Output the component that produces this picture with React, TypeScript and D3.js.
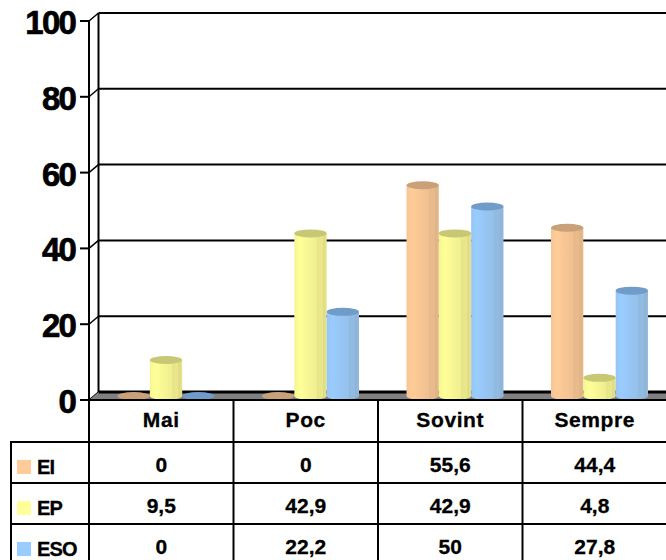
import React from "react";
import * as d3 from "d3";

const categories = ["Mai", "Poc", "Sovint", "Sempre"];
const seriesNames = ["EI", "EP", "ESO"];
const valuesEI = [0, 0, 55.6, 44.4];
const valuesEP = [9.5, 42.9, 42.9, 4.8];
const valuesESO = [0, 22.2, 50, 27.8];
const tableLabelsEI = ["0", "0", "55,6", "44,4"];
const tableLabelsEP = ["9,5", "42,9", "42,9", "4,8"];
const tableLabelsESO = ["0", "22,2", "50", "27,8"];
const yTicks = [0, 20, 40, 60, 80, 100];

const seriesValues = [valuesEI, valuesEP, valuesESO];
const seriesTable = [tableLabelsEI, tableLabelsEP, tableLabelsESO];
const baseColors = ["#FFCC99", "#FFFF99", "#99CCFF"];
const topColors = ["#C9A077", "#C8C774", "#6F9CC8"];

const W = 666;
const H = 560;
const FONT = "'Liberation Sans', Arial, sans-serif";

export default function App() {
  const dx = 9.5;
  const dy = -8;
  const plotLeft = 89;
  const plotRight = 667;
  const yFront = d3.scaleLinear().domain([0, 100]).range([400, 21]);
  const yBack = (v: number) => yFront(v) + dy;
  const yMid = (v: number) => yFront(v) + dy / 2;

  const xCat = d3.scaleBand<string>().domain(categories).range([plotLeft, plotRight]).padding(0);
  const bw = xCat.bandwidth();
  const groupW = 97;
  const off = (bw - groupW) / 2 + dx / 2;
  const xSer = d3.scaleBand<string>().domain(seriesNames).range([off, off + groupW]).padding(0);
  const barW = xSer.bandwidth();
  const rx = barW / 2;
  const ry = 4;

  const rowTops = [442, 483, 524];

  return (
    <svg width={W} height={H} style={{ position: "absolute", left: 0, top: 0, background: "#fff" }}>
      <defs>
        {baseColors.map((c, i) => {
          const base = d3.color(c)!;
          const mix = (t: number) => d3.interpolateRgb(c, "#6b5a40")(t);
          return (
            <linearGradient key={i} id={`grad${i}`} x1="0" x2="1" y1="0" y2="0">
              <stop offset="0" stopColor={mix(0.06)} />
              <stop offset="0.18" stopColor={base.formatHex()} />
              <stop offset="0.4" stopColor={mix(0.05)} />
              <stop offset="0.68" stopColor={mix(0.1)} />
              <stop offset="0.7" stopColor={mix(0.16)} />
              <stop offset="0.87" stopColor={mix(0.15)} />
              <stop offset="0.89" stopColor={mix(0.22)} />
              <stop offset="1" stopColor={mix(0.17)} />
            </linearGradient>
          );
        })}
      </defs>

      {/* back wall vertical */}
      <line x1={plotLeft + dx} x2={plotLeft + dx} y1={yBack(100)} y2={yBack(0)} stroke="#000" strokeWidth={2} />
      {/* front axis */}
      <line x1={plotLeft} x2={plotLeft} y1={yFront(100)} y2={yFront(0)} stroke="#000" strokeWidth={2} />

      {yTicks.map((t) => (
        <g key={t}>
          {t > 0 && (
            <line x1={plotLeft + dx} x2={W} y1={yBack(t)} y2={yBack(t)} stroke="#000" strokeWidth={2} />
          )}
          <line x1={plotLeft} x2={plotLeft + dx} y1={yFront(t)} y2={yBack(t)} stroke="#000" strokeWidth={1.5} />
          <line x1={80} x2={plotLeft} y1={yFront(t)} y2={yFront(t)} stroke="#000" strokeWidth={2} />
          <text
            x={75}
            y={yFront(t) + 13}
            textAnchor="end"
            fontFamily={FONT}
            fontWeight="bold"
            fontSize={33}
            letterSpacing={-1.8}
            stroke="#000"
            strokeWidth={0.7}
          >
            {t}
          </text>
        </g>
      ))}

      {/* floor */}
      <polygon
        points={`${plotLeft},${yFront(0)} ${plotLeft + dx},${yBack(0)} ${W},${yBack(0)} ${W},${yFront(0)}`}
        fill="#808080"
      />
      <line x1={plotLeft + dx} x2={W} y1={yBack(0)} y2={yBack(0)} stroke="#000" strokeWidth={3} />

      {/* bars */}
      {categories.map((cat, ci) => (
        <g key={cat}>
          {seriesNames.map((s, si) => {
            const v = seriesValues[si][ci];
            const x = (xCat(cat) as number) + (xSer(s) as number);
            const cx = x + rx;
            const yTop = yMid(v);
            const yBot = yMid(0);
            if (v <= 0) {
              return <ellipse key={s} cx={cx} cy={yBot} rx={rx} ry={ry} fill={topColors[si]} />;
            }
            return (
              <g key={s}>
                <ellipse cx={cx} cy={yBot} rx={rx} ry={ry} fill={`url(#grad${si})`} />
                <rect x={x} y={yTop} width={barW} height={yBot - yTop} fill={`url(#grad${si})`} />
                <ellipse cx={cx} cy={yTop} rx={rx} ry={ry} fill={topColors[si]} />
              </g>
            );
          })}
        </g>
      ))}

      {/* table */}
      <line x1={plotLeft} x2={W} y1={yFront(0)} y2={yFront(0)} stroke="#000" strokeWidth={2} />
      {categories.map((cat) => (
        <line
          key={cat}
          x1={xCat(cat) as number}
          x2={xCat(cat) as number}
          y1={yFront(0)}
          y2={H}
          stroke="#000"
          strokeWidth={2}
        />
      ))}
      <line x1={11} x2={11} y1={rowTops[0]} y2={H} stroke="#000" strokeWidth={2} />
      {rowTops.map((ry0) => (
        <line key={ry0} x1={10} x2={W} y1={ry0} y2={ry0} stroke="#000" strokeWidth={2} />
      ))}
      {categories.map((cat) => (
        <text
          key={cat}
          x={(xCat(cat) as number) + bw / 2}
          y={426.5}
          textAnchor="middle"
          fontFamily={FONT}
          fontWeight="bold"
          fontSize={21}
          letterSpacing={0.6}
          stroke="#000"
          strokeWidth={0.3}
        >
          {cat}
        </text>
      ))}
      {seriesNames.map((s, si) => (
        <g key={s}>
          <rect x={17} y={rowTops[si] + 18} width={14} height={14} fill={baseColors[si]} />
          <text
            x={37}
            y={rowTops[si] + 32}
            fontFamily={FONT}
            fontWeight="bold"
            fontSize={20}
            letterSpacing={-0.8}
            stroke="#000"
            strokeWidth={0.3}
          >
            {s}
          </text>
          {categories.map((cat, ci) => (
            <text
              key={cat}
              x={(xCat(cat) as number) + bw / 2}
              y={rowTops[si] + 30}
              textAnchor="middle"
              fontFamily={FONT}
              fontWeight="bold"
              fontSize={21}
              stroke="#000"
              strokeWidth={0.3}
            >
              {seriesTable[si][ci]}
            </text>
          ))}
        </g>
      ))}
    </svg>
  );
}
